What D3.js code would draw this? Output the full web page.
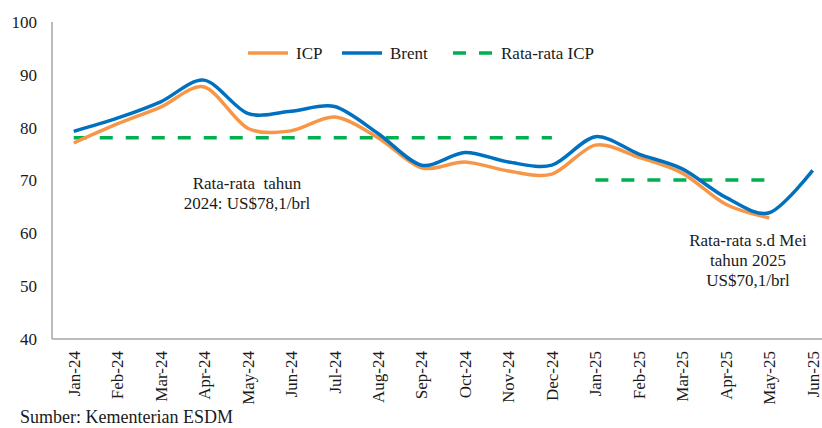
<!DOCTYPE html>
<html>
<head>
<meta charset="utf-8">
<script src="https://cdn.jsdelivr.net/npm/d3@7"></script>
<style>
  body { margin: 0; background: #fff; }
  svg text { font-family: "Liberation Serif", serif; fill: #1a1a1a; }
</style>
</head>
<body>
<svg id="chart" width="822" height="428"></svg>
<script>
// monthly data
var months = ["Jan-24","Feb-24","Mar-24","Apr-24","May-24","Jun-24","Jul-24","Aug-24","Sep-24",
	"Oct-24","Nov-24","Dec-24","Jan-25","Feb-25","Mar-25","Apr-25","May-25","Jun-25"];
var icp = [77.1, 80.7, 83.9, 87.7, 79.9, 79.4, 82.0, 78.1, 72.4, 73.5, 71.8, 71.2, 76.7, 74.4, 71.4, 65.5, 62.9];
var brent = [79.3, 81.8, 84.9, 89.0, 82.7, 83.1, 84.0, 78.9, 72.9, 75.3, 73.5, 72.9, 78.3, 75.0, 72.2, 66.8, 63.9, 71.9];
var avg2024 = 78.1, avg2025 = 70.1;
var yTicks = [40, 50, 60, 70, 80, 90, 100];

var svg = d3.select("#chart");
var fs = 17;

var x = d3.scaleBand().domain(months).range([52, 52 + 18 * 43.47]);
var y = d3.scaleLinear().domain([40, 100]).range([339, 22]);
var cx = function(m){ return x(m) + x.bandwidth() / 2; };

// axes lines
svg.append("line").attr("x1", 52).attr("x2", 52).attr("y1", y(100)).attr("y2", y(40))
	.attr("stroke", "#a6a6a6").attr("stroke-width", 1.5);
svg.append("line").attr("x1", 52).attr("x2", 822).attr("y1", y(40)).attr("y2", y(40))
	.attr("stroke", "#a6a6a6").attr("stroke-width", 1.5);

// y tick labels
svg.selectAll(".ytick").data(yTicks).enter().append("text")
	.attr("x", 37).attr("y", function(d){ return y(d); })
	.attr("dy", "0.35em").attr("text-anchor", "end")
	.style("font-size", fs + "px").text(function(d){ return d; });

// x tick labels, rotated
svg.selectAll(".xtick").data(months).enter().append("text")
	.attr("transform", function(d){ return "translate(" + cx(d) + ",351) rotate(-90)"; })
	.attr("dy", "0.35em").attr("text-anchor", "end")
	.style("font-size", fs + "px").text(function(d){ return d; });

// average dashed lines
var avgLines = [
	{ from: "Jan-24", to: "Dec-24", v: avg2024 },
	{ from: "Jan-25", to: "May-25", v: avg2025 }
];
svg.selectAll(".avg").data(avgLines).enter().append("line")
	.attr("x1", function(d){ return cx(d.from); })
	.attr("x2", function(d){ return cx(d.to); })
	.attr("y1", function(d){ return y(d.v); })
	.attr("y2", function(d){ return y(d.v); })
	.attr("stroke", "#00b050").attr("stroke-width", 3.5)
	.attr("stroke-dasharray", "13,13");

var line = d3.line()
	.x(function(d, i){ return cx(months[i]); })
	.y(function(d){ return y(d); })
	.curve(d3.curveCardinal.tension(0.1));

svg.append("path").datum(icp).attr("d", line)
	.attr("fill", "none").attr("stroke", "#f79646").attr("stroke-width", 3.5);
svg.append("path").datum(brent).attr("d", line)
	.attr("fill", "none").attr("stroke", "#0070c0").attr("stroke-width", 3.5);

// legend
var legend = [
	{ name: "ICP", color: "#f79646", dash: null, x: 248 },
	{ name: "Brent", color: "#0070c0", dash: null, x: 342 },
	{ name: "Rata-rata ICP", color: "#00b050", dash: "13,13", x: 453 }
];
var lg = svg.selectAll(".lg").data(legend).enter().append("g")
	.attr("transform", function(d){ return "translate(" + d.x + ",53)"; });
lg.append("line").attr("x1", 0).attr("x2", 40)
	.attr("stroke", function(d){ return d.color; }).attr("stroke-width", 3.5)
	.attr("stroke-dasharray", function(d){ return d.dash; });
lg.append("text").attr("x", 48).attr("dy", "0.35em")
	.style("font-size", fs + "px").text(function(d){ return d.name; });

// annotations
var note1 = ["Rata-rata\u00a0 tahun", "2024: US$78,1/brl"];
var note2 = ["Rata-rata s.d Mei", "tahun 2025", "US$70,1/brl"];
svg.selectAll(".n1").data(note1).enter().append("text")
	.attr("x", 247).attr("y", function(d, i){ return 183 + i * 20; })
	.attr("dy", "0.35em").attr("text-anchor", "middle")
	.style("font-size", fs + "px").text(function(d){ return d; });
svg.selectAll(".n2").data(note2).enter().append("text")
	.attr("x", 748).attr("y", function(d, i){ return 240 + i * 20; })
	.attr("dy", "0.35em").attr("text-anchor", "middle")
	.style("font-size", fs + "px").text(function(d){ return d; });

svg.append("text").attr("x", 20).attr("y", 417).attr("dy", "0.35em")
	.style("font-size", "18px").text("Sumber: Kementerian ESDM");
</script>
</body>
</html>
